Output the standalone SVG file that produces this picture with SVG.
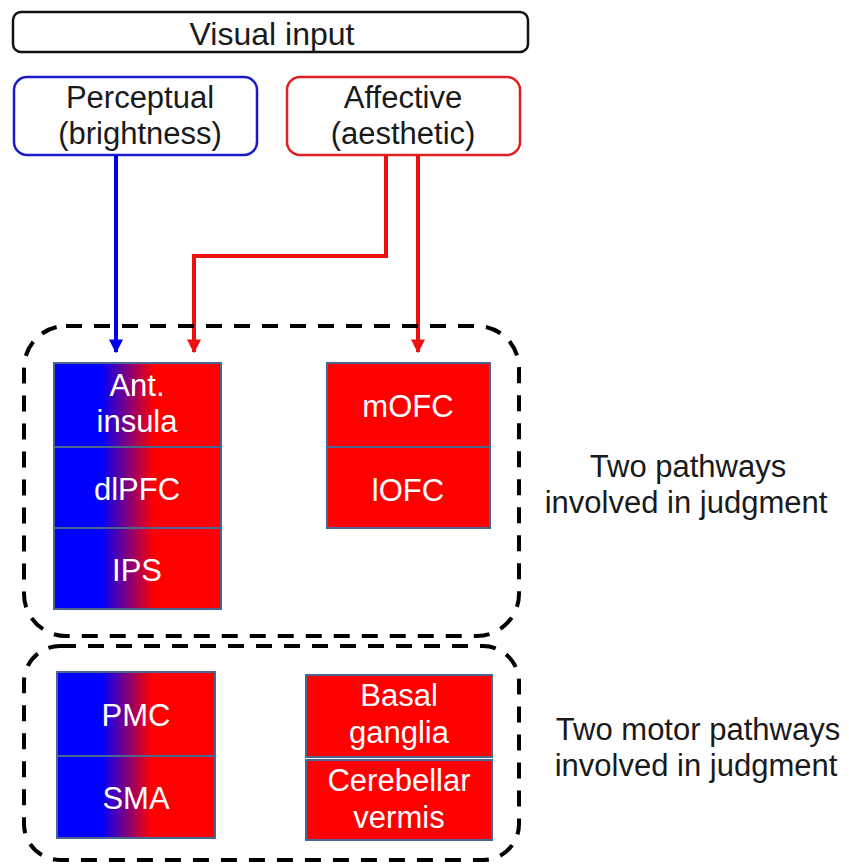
<svg xmlns="http://www.w3.org/2000/svg" width="849" height="864" viewBox="0 0 849 864">
<style>
text{font-family:"Liberation Sans",Arial,sans-serif;font-size:31px;text-anchor:middle}
.dark{fill:#1a1a1a}
.w{fill:#ffffff}
.cell{stroke:#4a6590;stroke-width:2}
.dash{fill:none;stroke:#000;stroke-width:4;stroke-dasharray:16,12}
.conn{fill:none;stroke-width:4}
</style>
<defs>
<linearGradient id="g" x1="0" y1="0" x2="1" y2="0">
<stop offset="0.28" stop-color="#0000ff"/>
<stop offset="0.6" stop-color="#ff0000"/>
</linearGradient>
<marker id="ab" viewBox="0 0 10 10" refX="9" refY="5" markerWidth="3.5" markerHeight="3.5" orient="auto" markerUnits="strokeWidth"><path d="M0,0L10,5L0,10z" fill="#0000ee"/></marker>
<marker id="ar" viewBox="0 0 10 10" refX="9" refY="5" markerWidth="3.5" markerHeight="3.5" orient="auto" markerUnits="strokeWidth"><path d="M0,0L10,5L0,10z" fill="#ee1111"/></marker>
</defs>
<g id="visual-input">
<rect x="13" y="12" width="515" height="40" rx="8" fill="#fff" stroke="#111" stroke-width="2.5"/>
<text class="dark" x="272" y="45" style="font-size:32px">Visual input</text>
</g>
<g id="perceptual">
<rect x="14" y="77" width="243" height="78" rx="13" fill="#fff" stroke="#1a1acc" stroke-width="2.5"/>
<text class="dark" x="140" y="108">Perceptual</text>
<text class="dark" x="140" y="144">(brightness)</text>
</g>
<g id="affective">
<rect x="287" y="77" width="233" height="78" rx="13" fill="#fff" stroke="#dd2222" stroke-width="2.5"/>
<text class="dark" x="403" y="108">Affective</text>
<text class="dark" x="403" y="144">(aesthetic)</text>
</g>
<g id="connectors">
<path class="conn" stroke="#0000ee" d="M116,155V352" marker-end="url(#ab)"/>
<path class="conn" stroke="#ee1111" d="M386,155V256H194V352" marker-end="url(#ar)"/>
<path class="conn" stroke="#ee1111" d="M418,155V352" marker-end="url(#ar)"/>
</g>
<g id="group-judgment">
<rect class="dash" x="24" y="326" width="495" height="310" rx="42"/>
</g>
<g id="group-motor">
<rect class="dash" x="24" y="646" width="495" height="214" rx="36"/>
</g>
<g id="ant-insula">
<rect class="cell" x="54" y="363" width="167" height="84" fill="url(#g)"/>
<text class="w" x="137" y="396">Ant.</text>
<text class="w" x="137" y="432">insula</text>
</g>
<g id="dlpfc">
<rect class="cell" x="54" y="447" width="167" height="81" fill="url(#g)"/>
<text class="w" x="137" y="500">dlPFC</text>
</g>
<g id="ips">
<rect class="cell" x="54" y="528" width="167" height="81" fill="url(#g)"/>
<text class="w" x="137" y="581">IPS</text>
</g>
<g id="mofc">
<rect class="cell" x="327" y="363" width="163" height="84" fill="#ff0000"/>
<text class="w" x="408" y="417">mOFC</text>
</g>
<g id="lofc">
<rect class="cell" x="327" y="447" width="163" height="81" fill="#ff0000"/>
<text class="w" x="408" y="501">lOFC</text>
</g>
<g id="pmc">
<rect class="cell" x="57" y="672" width="158" height="84" fill="url(#g)"/>
<text class="w" x="136" y="726">PMC</text>
</g>
<g id="sma">
<rect class="cell" x="57" y="756" width="158" height="82" fill="url(#g)"/>
<text class="w" x="136" y="809">SMA</text>
</g>
<g id="basal-ganglia">
<rect class="cell" x="306" y="675" width="186" height="82" fill="#ff0000"/>
<text class="w" x="399" y="706">Basal</text>
<text class="w" x="399" y="743">ganglia</text>
</g>
<g id="cerebellar-vermis">
<rect class="cell" x="306" y="760" width="186" height="80" fill="#ff0000"/>
<text class="w" x="399" y="791">Cerebellar</text>
<text class="w" x="399" y="828">vermis</text>
</g>
<g id="label-judgment">
<text class="dark" x="688" y="477">Two pathways</text>
<text class="dark" x="686" y="513">involved in judgment</text>
</g>
<g id="label-motor">
<text class="dark" x="698" y="740">Two motor pathways</text>
<text class="dark" x="696" y="776">involved in judgment</text>
</g>
</svg>
